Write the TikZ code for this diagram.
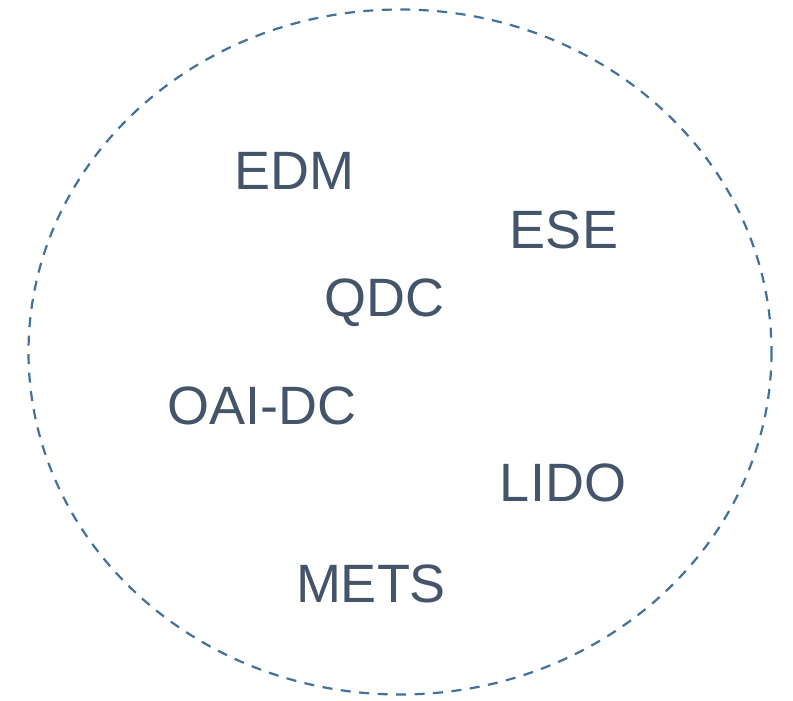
\documentclass[tikz,border=0pt]{standalone}
\usepackage{fontspec}
\setmainfont{Liberation Sans}
\definecolor{txt}{HTML}{44546A}
\definecolor{ring}{HTML}{41719C}
\begin{document}
\begin{tikzpicture}[x=1pt,y=-1pt,
  lbl/.style={text=txt,inner sep=0pt,anchor=base,font=\fontsize{54}{60}\selectfont}]
\useasboundingbox (0,0) rectangle (793,701);
\draw[ring,line width=2.2pt,dash pattern=on 10pt off 8.5pt] (400,352) ellipse [x radius=371.5, y radius=342.5];
\node[lbl] (edm) at (294,189) {EDM};
\node[lbl] (ese) at (564,248) {ESE};
\node[lbl] (qdc) at (384,316) {QDC};
\node[lbl] (oai) at (262,424) {OAI-DC};
\node[lbl] (lido) at (563,501) {LIDO};
\node[lbl] (mets) at (371,602) {METS};
\end{tikzpicture}
\end{document}
